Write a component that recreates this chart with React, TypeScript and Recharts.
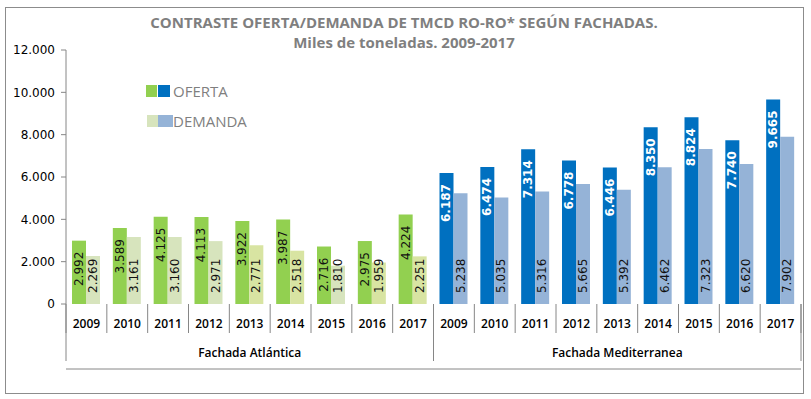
import { BarChart, Bar, XAxis, YAxis, Cell, LabelList, Legend } from 'recharts';

const years = ['2009', '2010', '2011', '2012', '2013', '2014', '2015', '2016', '2017'];
const groups = ['Fachada Atlántica', 'Fachada Mediterranea'];
const atlanticOferta = [2992, 3589, 4125, 4113, 3922, 3987, 2716, 2975, 4224];
const atlanticDemanda = [2269, 3161, 3160, 2971, 2771, 2518, 1810, 1959, 2251];
const medOferta = [6187, 6474, 7314, 6778, 6446, 8350, 8824, 7740, 9665];
const medDemanda = [5238, 5035, 5316, 5665, 5392, 6462, 7323, 6620, 7902];
const yTicks = [0, 2000, 4000, 6000, 8000, 10000, 12000];

const data = [
  ...years.map((y, i) => ({ year: y, group: groups[0], oferta: atlanticOferta[i], demanda: atlanticDemanda[i] })),
  ...years.map((y, i) => ({ year: y, group: groups[1], oferta: medOferta[i], demanda: medDemanda[i] })),
];

const GREEN = '#92d050';
const BLUE = '#0070c0';
const LIGHT_BLUE = '#95b3d7';
const PALE = '#d7e4bd';
const OLIVE = '#d8e4a2';
const atlDemandaColors = [PALE, PALE, PALE, PALE, OLIVE, OLIVE, PALE, OLIVE, OLIVE];

const W = 811;
const H = 399;
const LEFT = 66;
const RIGHT = 10;
const ZERO_Y = 304;
const BAND = (W - LEFT - RIGHT) / data.length;
const AXIS_GREY = '#868686';
const FONT = '"Open Sans", sans-serif';

const fmt = (v: number) => String(v).replace(/\B(?=(\d{3})+(?!\d))/g, '.');

const OfertaLabel = (p: any) => {
  const cx = p.x + p.width / 2;
  const ty = p.y + 11;
  const med = p.index >= 9;
  return (
    <text x={cx} y={ty} transform={`rotate(-90 ${cx} ${ty})`} textAnchor="end" dominantBaseline="central"
      fill={med ? '#fff' : '#111'} fontWeight={med ? 700 : 400} fontSize={12} fontFamily="DejaVu Sans">
      {fmt(p.value)}
    </text>
  );
};

const DemandaLabel = (p: any) => {
  const cx = p.x + p.width / 2;
  const ty = p.y + p.height - 11;
  return (
    <text x={cx} y={ty} transform={`rotate(-90 ${cx} ${ty})`} textAnchor="start" dominantBaseline="central"
      fill="#111" fontSize={12} fontFamily="DejaVu Sans">
      {fmt(p.value)}
    </text>
  );
};

const YearTick = (p: any) => {
  const x = p.x;
  const left = x - BAND / 2;
  const last = p.index === data.length - 1;
  return (
    <g>
      <line x1={left} x2={left} y1={ZERO_Y} y2={333} stroke={AXIS_GREY} />
      {last && <line x1={left + BAND} x2={left + BAND} y1={ZERO_Y} y2={333} stroke={AXIS_GREY} />}
      <text x={x} y={323} textAnchor="middle" dominantBaseline="central" fontSize={12} fontWeight={600}
        fontFamily={FONT} fill="#000">{p.payload.value}</text>
    </g>
  );
};

const GroupTick = (p: any) => {
  const x = p.x;
  const i = p.index;
  const left = x - BAND / 2;
  return (
    <g>
      {(i === 0 || i === 9) && <line x1={left} x2={left} y1={ZERO_Y} y2={361} stroke={AXIS_GREY} />}
      {i === data.length - 1 && <line x1={left + BAND} x2={left + BAND} y1={ZERO_Y} y2={361} stroke={AXIS_GREY} />}
      {(i === 4 || i === 13) && (
        <text x={x} y={352} textAnchor="middle" dominantBaseline="central" fontSize={12} fontWeight={600}
          fontFamily={FONT} fill="#000">{p.payload.value}</text>
      )}
    </g>
  );
};

const sw = (left: number, top: number, w: number, color: string) => (
  <div style={{ position: 'absolute', left, top, width: w, height: 12, background: color }} />
);

const LegendBox = () => (
  <div style={{ position: 'relative', height: 0, fontFamily: FONT, fontSize: 15, color: '#7f7f7f' }}>
    {sw(146, 85, 11, GREEN)}
    {sw(158, 85, 12, BLUE)}
    <div style={{ position: 'absolute', left: 173, top: 80, lineHeight: '22px' }}>OFERTA</div>
    {sw(147, 115, 11, PALE)}
    {sw(158, 115, 15, LIGHT_BLUE)}
    <div style={{ position: 'absolute', left: 173, top: 110, lineHeight: '22px' }}>DEMANDA</div>
  </div>
);

export default function App() {
  return (
    <div style={{ position: 'absolute', left: 0, top: 0, width: W, height: H, background: '#fff' }}>
      <div style={{ position: 'absolute', left: 5, top: 7, width: 797, height: 385, border: '1px solid #8c8c8c' }} />
      <div style={{ position: 'absolute', left: 0, width: 808, top: 12, textAlign: 'center', fontFamily: FONT,
        fontWeight: 700, color: '#7f7f7f', fontSize: 15, lineHeight: '20px' }}>
        <div>CONTRASTE OFERTA/DEMANDA DE TMCD RO-RO* SEGÚN FACHADAS.</div>
        <div>Miles de toneladas. 2009-2017</div>
      </div>
      <BarChart width={W} height={H} data={data} barSize={14} barGap={0}
        margin={{ top: 50, right: RIGHT, bottom: 0, left: 0 }} style={{ position: 'absolute', left: 0, top: 0 }}>
        <YAxis width={LEFT} domain={[0, 12000]} ticks={yTicks} tickFormatter={fmt} interval={0}
          axisLine={{ stroke: AXIS_GREY }} tickLine={{ stroke: AXIS_GREY }} tickSize={5} tickMargin={6}
          tick={{ fontSize: 12, fill: '#000', fontFamily: 'DejaVu Sans' }} />
        <XAxis xAxisId="year" dataKey="year" height={30} interval={0} tickLine={false}
          axisLine={{ stroke: AXIS_GREY }} tick={<YearTick />} />
        <XAxis xAxisId="group" dataKey="group" height={65} interval={0} tickLine={false}
          axisLine={false} tick={<GroupTick />} />
        <Legend content={<LegendBox />} wrapperStyle={{ left: 0, top: 0, width: 300, height: 0 }} />
        <Bar xAxisId="year" dataKey="oferta" name="OFERTA" fill={GREEN} isAnimationActive={false}>
          {data.map((d, i) => <Cell key={i} fill={i < 9 ? GREEN : BLUE} />)}
          <LabelList dataKey="oferta" content={<OfertaLabel />} />
        </Bar>
        <Bar xAxisId="year" dataKey="demanda" name="DEMANDA" fill={PALE} isAnimationActive={false}>
          {data.map((d, i) => <Cell key={i} fill={i < 9 ? atlDemandaColors[i] : LIGHT_BLUE} />)}
          <LabelList dataKey="demanda" content={<DemandaLabel />} />
        </Bar>
      </BarChart>
    </div>
  );
}
